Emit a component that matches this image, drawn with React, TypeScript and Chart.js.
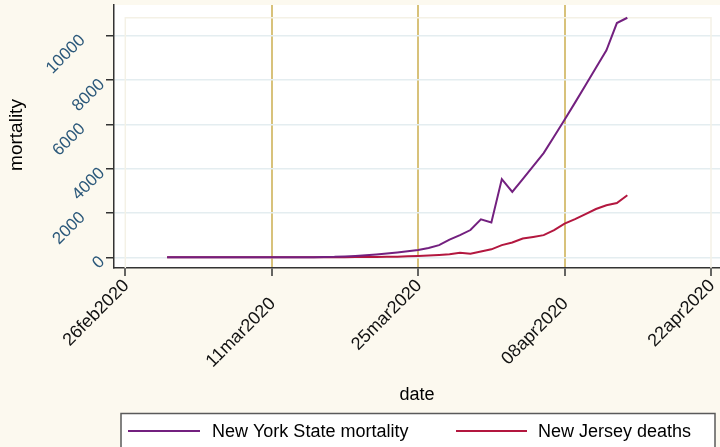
import React, { useEffect, useRef } from 'react';
import { Chart, registerables } from 'chart.js';

Chart.register(...registerables);

// ---- data ----
const dates = [
  '01mar2020', '02mar2020', '03mar2020', '04mar2020', '05mar2020', '06mar2020', '07mar2020',
  '08mar2020', '09mar2020', '10mar2020', '11mar2020', '12mar2020', '13mar2020', '14mar2020',
  '15mar2020', '16mar2020', '17mar2020', '18mar2020', '19mar2020', '20mar2020', '21mar2020',
  '22mar2020', '23mar2020', '24mar2020', '25mar2020', '26mar2020', '27mar2020', '28mar2020',
  '29mar2020', '30mar2020', '31mar2020', '01apr2020', '02apr2020', '03apr2020', '04apr2020',
  '05apr2020', '06apr2020', '07apr2020', '08apr2020', '09apr2020', '10apr2020', '11apr2020',
  '12apr2020', '13apr2020', '14apr2020',
];

const nyMortality = [
  0, 0, 0, 0, 0, 0, 0, 0, 0, 0, 0, 0, 0,
  3, 7, 12, 20, 40, 60, 90, 130, 170, 215, 270, 330,
  420, 550, 800, 1000, 1230, 1710, 1570, 3530, 2950, 3530, 4110, 4700,
  5450, 6210, 6980, 7760, 8550, 9340, 10570, 10810,
];

const njDeaths = [
  0, 0, 0, 0, 0, 0, 0, 0, 0, 0, 0, 0, 0,
  2, 2, 3, 3, 5, 9, 11, 16, 20, 27, 44, 62,
  81, 108, 140, 200, 165, 260, 360, 550, 670, 850, 920, 1000,
  1230, 1520, 1720, 1950, 2180, 2350, 2450, 2800,
];

const seriesNames = ['New York State mortality', 'New Jersey deaths'];
const seriesColors = ['#73207F', '#B3173F'];

const baseDate = '26feb2020';
const xTickDates = ['26feb2020', '11mar2020', '25mar2020', '08apr2020', '22apr2020'];
const goldTickDates = ['11mar2020', '25mar2020', '08apr2020'];
const yTicks = [0, 2000, 4000, 6000, 8000, 10000];

const xTitle = 'date';
const yTitle = 'mortality';

// ---- helpers ----
const MONTHS: Record<string, number> = {
  jan: 0, feb: 1, mar: 2, apr: 3, may: 4, jun: 5, jul: 6, aug: 7, sep: 8, oct: 9, nov: 10, dec: 11,
};
function toUTC(s: string): number {
  const d = parseInt(s.slice(0, 2), 10);
  const m = MONTHS[s.slice(2, 5)];
  const y = parseInt(s.slice(5), 10);
  return Date.UTC(y, m, d);
}
function dayIndex(s: string): number {
  return Math.round((toUTC(s) - toUTC(baseDate)) / 86400000);
}

const FONT = '"Liberation Sans", Arial, Helvetica, sans-serif';
const CREAM = '#FCF9EF';

export default function App() {
  const ref = useRef<HTMLCanvasElement | null>(null);

  useEffect(() => {
    if (!ref.current) return;
    const xTickVals = xTickDates.map(dayIndex);
    const goldVals = goldTickDates.map(dayIndex);

    const bgPlugin = {
      id: 'stataBg',
      beforeDraw(chart: any) {
        const { ctx, chartArea } = chart;
        ctx.save();
        ctx.fillStyle = CREAM;
        ctx.fillRect(0, 0, chart.width, chart.height);
        ctx.fillStyle = '#FFFFFF';
        ctx.fillRect(chartArea.left, chartArea.top, chartArea.right - chartArea.left, chartArea.bottom - chartArea.top);
        ctx.restore();
      },
      beforeDatasetsDraw(chart: any) {
        const { ctx, chartArea } = chart;
        const xs = chart.scales.x;
        const ys = chart.scales.y;
        const x0 = xs.getPixelForValue(xTickVals[0]);
        const x1 = xs.getPixelForValue(xTickVals[xTickVals.length - 1]);
        const yTop = ys.getPixelForValue(Math.max(...nyMortality));
        ctx.save();
        ctx.strokeStyle = '#F4F1E6';
        ctx.lineWidth = 1.5;
        ctx.beginPath();
        ctx.moveTo(x0, chartArea.bottom);
        ctx.lineTo(x0, yTop);
        ctx.lineTo(x1, yTop);
        ctx.lineTo(x1, chartArea.bottom);
        ctx.stroke();
        ctx.restore();
      },
      afterDraw(chart: any) {
        const { ctx, chartArea } = chart;
        const xs = chart.scales.x;
        const ys = chart.scales.y;
        ctx.save();
        // y tick labels (alternating)
        ctx.font = `17px ${FONT}`;
        ctx.fillStyle = '#2B587A';
        ctx.textAlign = 'right';
        ctx.textBaseline = 'middle';
        yTicks.forEach((v, i) => {
          const py = ys.getPixelForValue(v);
          ctx.save();
          ctx.translate(chartArea.left - 12 - (i % 2 ? 19.5 : 0), py + 2);
          ctx.rotate(-Math.PI / 4);
          ctx.fillText(String(v), 0, 0);
          ctx.restore();
        });
        // x tick labels (alternating)
        ctx.font = `18px ${FONT}`;
        ctx.fillStyle = '#111111';
        xTickDates.forEach((lab, i) => {
          const px = xs.getPixelForValue(dayIndex(lab));
          const y0 = chartArea.bottom + (i % 2 ? 33 : 15);
          ctx.save();
          ctx.translate(px + 1, y0);
          ctx.rotate(-Math.PI / 4);
          ctx.fillText(lab, 0, 0);
          ctx.restore();
        });
        // axis titles
        ctx.font = `18px ${FONT}`;
        ctx.fillStyle = '#000000';
        ctx.textAlign = 'center';
        ctx.textBaseline = 'alphabetic';
        ctx.fillText(xTitle, (chartArea.left + chartArea.right) / 2, 400);
        ctx.save();
        ctx.translate(22, 135);
        ctx.rotate(-Math.PI / 2);
        ctx.font = `19px ${FONT}`;
        ctx.fillText(yTitle, 0, 0);
        ctx.restore();
        // legend box
        ctx.fillStyle = '#FFFFFF';
        ctx.fillRect(121, 413.5, 594, 40);
        ctx.strokeStyle = '#5A5A5A';
        ctx.lineWidth = 1.5;
        ctx.strokeRect(121, 413.5, 594, 40);
        const items = [
          { x0: 128, x1: 200, tx: 212 },
          { x0: 456, x1: 527, tx: 538 },
        ];
        items.forEach((it, i) => {
          ctx.strokeStyle = seriesColors[i];
          ctx.lineWidth = 2;
          ctx.beginPath();
          ctx.moveTo(it.x0, 431);
          ctx.lineTo(it.x1, 431);
          ctx.stroke();
          ctx.fillStyle = '#000000';
          ctx.textAlign = 'left';
          ctx.textBaseline = 'middle';
          ctx.font = `18px ${FONT}`;
          ctx.fillText(seriesNames[i], it.tx, 432);
        });
        ctx.restore();
      },
    };

    const chart = new Chart(ref.current, {
      type: 'line',
      data: {
        datasets: [
          {
            label: seriesNames[0],
            data: dates.map((d, i) => ({ x: dayIndex(d), y: nyMortality[i] })),
            borderColor: seriesColors[0],
            backgroundColor: seriesColors[0],
            borderWidth: 2,
            pointRadius: 0,
            tension: 0,
          },
          {
            label: seriesNames[1],
            data: dates.map((d, i) => ({ x: dayIndex(d), y: njDeaths[i] })),
            borderColor: seriesColors[1],
            backgroundColor: seriesColors[1],
            borderWidth: 2,
            pointRadius: 0,
            tension: 0,
          },
        ],
      },
      options: {
        animation: false,
        responsive: false,
        events: [],
        layout: { padding: { top: 5, left: 0, right: 0, bottom: 0 } },
        plugins: {
          legend: { display: false },
          tooltip: { enabled: false },
          title: { display: false },
        },
        scales: {
          x: {
            type: 'linear',
            min: -1.08,
            max: 56.86,
            afterBuildTicks: (s: any) => {
              s.ticks = xTickVals.map((v) => ({ value: v }));
            },
            afterFit: (s: any) => {
              s.height = 179;
            },
            ticks: { display: false },
            grid: {
              color: (c: any) => (goldVals.includes(c.tick?.value) ? '#D8C27B' : 'rgba(0,0,0,0)'),
              lineWidth: 2,
              drawTicks: true,
              tickLength: 8,
              tickColor: '#333333',
              tickWidth: 1.5,
            },
            border: { display: true, color: '#333333', width: 1.5 },
          },
          y: {
            type: 'linear',
            min: -483,
            max: 11386,
            afterBuildTicks: (s: any) => {
              s.ticks = yTicks.map((v) => ({ value: v }));
            },
            afterFit: (s: any) => {
              s.width = 114;
            },
            ticks: { display: false },
            grid: {
              color: '#E4EDF0',
              lineWidth: 1.5,
              drawTicks: true,
              tickLength: 8,
              tickColor: '#333333',
              tickWidth: 1.5,
            },
            border: { display: true, color: '#333333', width: 1.5 },
          },
        },
      },
      plugins: [bgPlugin],
    } as any);

    return () => chart.destroy();
  }, []);

  return (
    <div style={{ position: 'fixed', left: 0, top: 0, width: 720, height: 447, background: CREAM }}>
      <canvas ref={ref} width={720} height={447} style={{ width: 720, height: 447, display: 'block' }} />
    </div>
  );
}
